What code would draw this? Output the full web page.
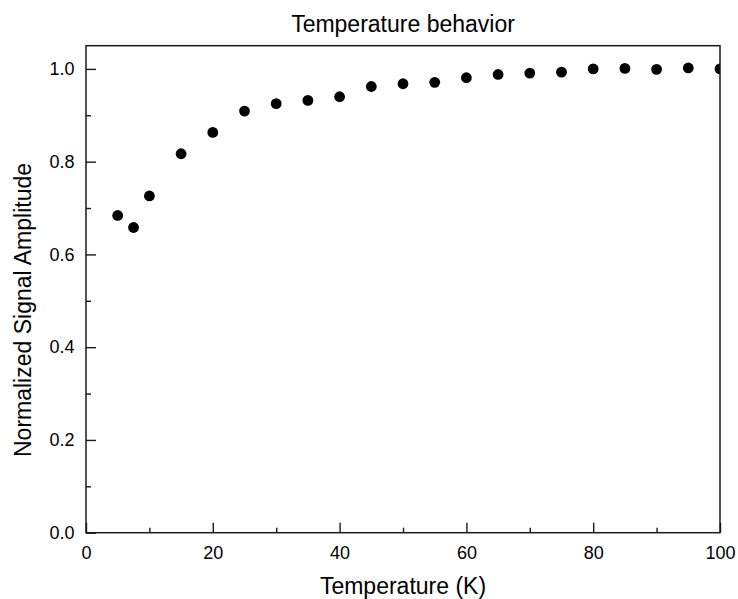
<!DOCTYPE html>
<html>
  <head>
    <script src="https://d3js.org/d3.v7.min.js"></script>
    <style>
      body {
        margin: 0;
        background: #ffffff;
      }
      text {
        font-family: "Liberation Sans", Arial, sans-serif;
        fill: #000000;
      }
    </style>
  </head>

  <body>
    <div id="chartContainer"></div>
  </body>

  <script type="text/javascript">
    const temperature = [
      5, 7.5, 10, 15, 20, 25, 30, 35, 40, 45, 50, 55, 60, 65, 70, 75, 80, 85,
      90, 95, 100,
    ];
    const amplitude = [
      0.684, 0.658, 0.726, 0.817, 0.863, 0.909, 0.925, 0.932, 0.94, 0.962,
      0.968, 0.971, 0.981, 0.988, 0.991, 0.993, 1.0, 1.001, 0.999, 1.002, 1.0,
    ];
    const xMajorTicks = [0, 20, 40, 60, 80, 100];
    const xMinorTicks = [10, 30, 50, 70, 90];
    const yMajorTicks = [0, 0.2, 0.4, 0.6, 0.8, 1.0];
    const yMinorTicks = [0.1, 0.3, 0.5, 0.7, 0.9];

    const width = 738,
      height = 599;
    const margin = { top: 45.7, right: 18, bottom: 66.3, left: 86 };

    const svg = d3
      .select("#chartContainer")
      .append("svg")
      .attr("width", width)
      .attr("height", height);

    const x = d3
      .scaleLinear()
      .domain([0, 100])
      .range([margin.left, width - margin.right]);
    const y = d3
      .scaleLinear()
      .domain([0, 1.05])
      .range([height - margin.bottom, margin.top]);

    const x0 = x.range()[0],
      x1 = x.range()[1];
    const y0 = y.range()[0],
      y1 = y.range()[1];

    svg
      .append("clipPath")
      .attr("id", "plotClip")
      .append("rect")
      .attr("x", x0)
      .attr("y", y1)
      .attr("width", x1 - x0)
      .attr("height", y0 - y1);

    // points
    svg
      .append("g")
      .attr("clip-path", "url(#plotClip)")
      .selectAll("circle")
      .data(temperature)
      .enter()
      .append("circle")
      .attr("cx", (d) => x(d))
      .attr("cy", (d, i) => y(amplitude[i]))
      .attr("r", 5.4)
      .attr("fill", "#000000");

    // x axis, ticks pointing inward
    svg
      .append("g")
      .attr("transform", `translate(0, ${y0})`)
      .call(
        d3
          .axisBottom(x)
          .tickValues(xMajorTicks)
          .tickSizeInner(-10)
          .tickSizeOuter(0)
          .tickPadding(14)
          .tickFormat(d3.format("d"))
      );
    svg
      .append("g")
      .attr("transform", `translate(0, ${y0})`)
      .call(
        d3
          .axisBottom(x)
          .tickValues(xMinorTicks)
          .tickSizeInner(-5)
          .tickSizeOuter(0)
          .tickFormat("")
      );

    // y axis
    svg
      .append("g")
      .attr("transform", `translate(${x0}, 0)`)
      .call(
        d3
          .axisLeft(y)
          .tickValues(yMajorTicks)
          .tickSizeInner(-10)
          .tickSizeOuter(0)
          .tickPadding(11.4)
          .tickFormat(d3.format(".1f"))
      );
    svg
      .append("g")
      .attr("transform", `translate(${x0}, 0)`)
      .call(
        d3
          .axisLeft(y)
          .tickValues(yMinorTicks)
          .tickSizeInner(-5)
          .tickSizeOuter(0)
          .tickFormat("")
      );

    svg.selectAll(".domain").remove();
    svg
      .selectAll(".tick line")
      .attr("stroke", "#1a1a1a")
      .attr("stroke-width", 1.4);
    svg
      .selectAll(".tick text")
      .style("font-size", "18px")
      .style("font-family", '"Liberation Sans", Arial, sans-serif')
      .attr("fill", "#000000");

    // frame
    svg
      .append("rect")
      .attr("x", x0)
      .attr("y", y1)
      .attr("width", x1 - x0)
      .attr("height", y0 - y1)
      .attr("fill", "none")
      .attr("stroke", "#1a1a1a")
      .attr("stroke-width", 1.5);

    // title and axis labels
    svg
      .append("text")
      .attr("x", (x0 + x1) / 2)
      .attr("y", 31.7)
      .attr("text-anchor", "middle")
      .style("font-size", "23px")
      .text("Temperature behavior");

    svg
      .append("text")
      .attr("x", (x0 + x1) / 2)
      .attr("y", 594)
      .attr("text-anchor", "middle")
      .style("font-size", "23px")
      .text("Temperature (K)");

    svg
      .append("text")
      .attr("transform", `translate(31, 310) rotate(-90)`)
      .attr("text-anchor", "middle")
      .style("font-size", "23px")
      .text("Normalized Signal Amplitude");
  </script>
</html>
